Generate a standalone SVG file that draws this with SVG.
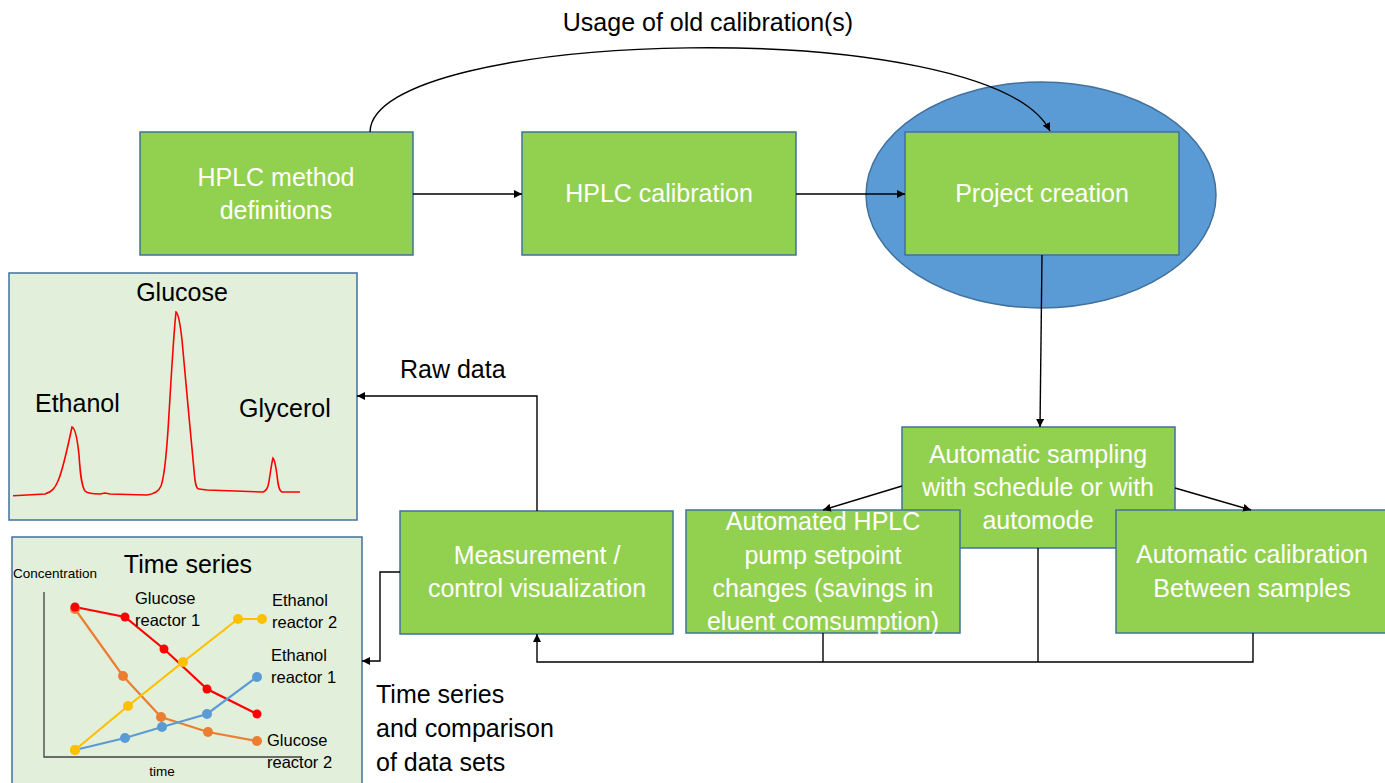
<svg xmlns="http://www.w3.org/2000/svg" width="1385" height="783" viewBox="0 0 1385 783">
<style>
.box{fill:#92D050;stroke:#41719C;stroke-width:1.5}
.panel{fill:#E2EFDA;stroke:#41719C;stroke-width:1.5}
.nt{font-family:"Liberation Sans",Arial,sans-serif;font-size:25px;fill:#FFFFFF;text-anchor:middle}
.lt{font-family:"Liberation Sans",Arial,sans-serif;font-size:25px;fill:#000000}
.st{font-family:"Liberation Sans",Arial,sans-serif;font-size:16.5px;fill:#000000}
.conn{fill:none;stroke:#000000;stroke-width:1.4}
.ser{fill:none;stroke-width:2.2}
</style>
<defs>
<marker id="ah" viewBox="0 0 10 10" refX="10" refY="5" markerWidth="8" markerHeight="8" markerUnits="userSpaceOnUse" orient="auto">
<path d="M0,0 L10,5 L0,10 z" fill="#000000"/>
</marker>
</defs>
<rect width="1385" height="783" fill="#FFFFFF"/>

<g id="project-ellipse">
<ellipse cx="1041" cy="195" rx="175" ry="113" fill="#5B9BD5" stroke="#41719C" stroke-width="1.5"/>
</g>

<g id="hplc-method">
<rect class="box" x="140" y="132" width="273" height="123"/>
<text class="nt" x="276" y="186">HPLC method</text>
<text class="nt" x="276" y="219">definitions</text>
</g>
<g id="hplc-calibration">
<rect class="box" x="522" y="132" width="274" height="123"/>
<text class="nt" x="659" y="202">HPLC calibration</text>
</g>
<g id="project-creation">
<rect class="box" x="905" y="132" width="274" height="123"/>
<text class="nt" x="1042" y="202">Project creation</text>
</g>
<g id="automatic-sampling">
<rect class="box" x="902" y="427" width="273" height="121"/>
<text class="nt" x="1038" y="463">Automatic sampling</text>
<text class="nt" x="1038" y="496">with schedule or with</text>
<text class="nt" x="1038" y="529">automode</text>
</g>
<g id="automated-hplc">
<rect class="box" x="686" y="510" width="274" height="123"/>
<text class="nt" x="823" y="530">Automated HPLC</text>
<text class="nt" x="823" y="564">pump setpoint</text>
<text class="nt" x="823" y="597">changes (savings in</text>
<text class="nt" x="823" y="630">eluent comsumption)</text>
</g>
<g id="automatic-calibration">
<rect class="box" x="1116" y="510" width="275" height="123"/>
<text class="nt" x="1252" y="563">Automatic calibration</text>
<text class="nt" x="1252" y="597">Between samples</text>
</g>
<g id="measurement">
<rect class="box" x="400" y="511" width="273" height="123"/>
<text class="nt" x="537" y="564">Measurement /</text>
<text class="nt" x="537" y="597">control visualization</text>
</g>

<g id="chromatogram">
<rect class="panel" x="9" y="273" width="348" height="247"/>
<text class="lt" x="182" y="301" text-anchor="middle">Glucose</text>
<text class="lt" x="35" y="412">Ethanol</text>
<text class="lt" x="239" y="417">Glycerol</text>
<path d="M13,495.7 L45,494 C52,492 55,488 58,481 C63,470 67,450 72,427 C75,428 77,435 79,455 C80,470 81,485 85,491 C88,494 95,494 100,494 L105,493 L110,494 L147,495 C155,494 159,491 161,486 C164,478 166,460 168,430 C170,400 173,340 176,312 C178,313 180,322 182,340 C185,370 190,430 194,470 C195,483 196,489 199,489 L207,490 L263,492 C266,491 267,489 268,486 C270,478 271,465 273,458 C275,460 276,468 277,475 C278,485 279,491 282,492 L300,492" fill="none" stroke="#FF0000" stroke-width="1.6"/>
</g>

<g id="time-series">
<rect class="panel" x="12" y="537" width="350" height="260"/>
<text class="lt" x="188" y="573" text-anchor="middle">Time series</text>
<text class="st" x="13" y="578" style="font-size:13.5px">Concentration</text>
<text class="st" x="162" y="776" text-anchor="middle" style="font-size:13.5px">time</text>
<path d="M44,592 L44,757 L302,757" fill="none" stroke="#404040" stroke-width="1.3"/>
<polyline class="ser" stroke="#ED7D31" points="75,609 123,676 161,717 208,732 257,741"/>
<polyline class="ser" stroke="#FF0000" stroke-width="1.6" points="75,607 125,617 164,649 207,689 257,714"/>
<polyline class="ser" stroke="#FFC000" points="75,750 128,706 183,662 238,619 262,619"/>
<polyline class="ser" stroke="#5B9BD5" points="75,750 125,738 162,727 207,714 257,677"/>
<g fill="#ED7D31"><circle cx="75" cy="609" r="5"/><circle cx="123" cy="676" r="5"/><circle cx="161" cy="717" r="5"/><circle cx="208" cy="732" r="5"/><circle cx="257" cy="741" r="5"/></g>
<g fill="#FF0000"><circle cx="75" cy="607" r="4.5"/><circle cx="125" cy="617" r="4.5"/><circle cx="164" cy="649" r="4.5"/><circle cx="207" cy="689" r="4.5"/><circle cx="257" cy="714" r="4.5"/></g>
<g fill="#FFC000"><circle cx="75" cy="750" r="5"/><circle cx="128" cy="706" r="5"/><circle cx="183" cy="662" r="5"/><circle cx="238" cy="619" r="5"/><circle cx="262" cy="619" r="5"/></g>
<g fill="#5B9BD5"><circle cx="125" cy="738" r="5"/><circle cx="162" cy="727" r="5"/><circle cx="207" cy="714" r="5"/><circle cx="257" cy="677" r="5"/></g>
<circle cx="75" cy="750" r="5" fill="#FFC000"/>
<text class="st" x="135" y="604">Glucose</text>
<text class="st" x="135" y="626">reactor 1</text>
<text class="st" x="272" y="606">Ethanol</text>
<text class="st" x="272" y="628">reactor 2</text>
<text class="st" x="271" y="661">Ethanol</text>
<text class="st" x="271" y="683">reactor 1</text>
<text class="st" x="267" y="746">Glucose</text>
<text class="st" x="267" y="768">reactor 2</text>
</g>

<g id="connectors">
<path class="conn" d="M370,132 C372,28 990,12 1050,131" stroke-width="1" marker-end="url(#ah)"/>
<path class="conn" d="M413,194 L522,194" marker-end="url(#ah)"/>
<path class="conn" d="M796,194 L905,194" marker-end="url(#ah)"/>
<path class="conn" d="M1042,255 L1040,427" marker-end="url(#ah)"/>
<path class="conn" d="M902,486 L823,510" marker-end="url(#ah)"/>
<path class="conn" d="M1175,488 L1251,510" marker-end="url(#ah)"/>
<path class="conn" d="M823,633 L823,662"/>
<path class="conn" d="M1038,548 L1038,662"/>
<path class="conn" d="M1253,633 L1253,662 L537,662 L537,634" marker-end="url(#ah)"/>
<path class="conn" d="M537,511 L537,396 L357,396" marker-end="url(#ah)"/>
<path class="conn" d="M400,572 L380,572 L380,661 L362,661" marker-end="url(#ah)"/>
</g>

<g id="labels">
<text class="lt" x="708" y="31" text-anchor="middle">Usage of old calibration(s)</text>
<text class="lt" x="400" y="378">Raw data</text>
<text class="lt" x="376" y="703">Time series</text>
<text class="lt" x="376" y="737">and comparison</text>
<text class="lt" x="376" y="771">of data sets</text>
</g>
</svg>
